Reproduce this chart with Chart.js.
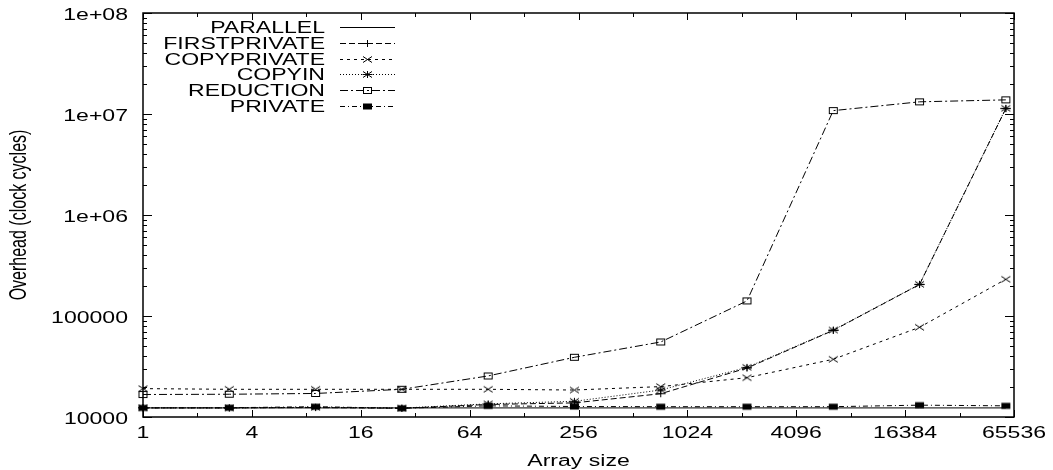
<!DOCTYPE html>
<html>
<head>
<meta charset="utf-8">
<script src="https://cdn.jsdelivr.net/npm/chart.js@4.4.0/dist/chart.umd.min.js"></script>
<style>
    html, body { margin: 0; padding: 0; background: #fff; }
    canvas { display: block; }
</style>
</head>
<body>
<canvas id="graficoOverhead" width="1053" height="470"></canvas>
<script>
// tamanhos de array (eixo x, potencias de 3)
const tamanhos = [1, 3, 9, 27, 81, 243, 729, 2187, 6561, 19683, 59049]

// overhead em ciclos de clock
const parallel     = [12300, 12300, 12300, 12300, 12300, 12300, 12300, 12300, 12300, 12300, 12300]
const firstprivate = [12300, 12300, 12400, 12200, 13300, 13800, 17000, 30500, 72000, 205000, 11300000]
const copyprivate  = [19100, 18800, 18800, 18800, 18800, 18500, 20000, 24500, 37300, 77300, 231000]
const copyin       = [12350, 12300, 12500, 12250, 13500, 14300, 18500, 31000, 72600, 206000, 11400000]
const reduction    = [16700, 16800, 17100, 18800, 25500, 39000, 55300, 141000, 10800000, 13200000, 13800000]
const privateArr   = [12300, 12350, 12650, 12200, 12900, 12700, 12650, 12650, 12650, 13100, 12900]

// ticks dos eixos
const ticksX = [1, 4, 16, 64, 256, 1024, 4096, 16384, 65536]
const ticksXLabels = ['1', '4', '16', '64', '256', '1024', '4096', '16384', '65536']
const ticksXMenores = [2, 8, 32, 128, 512, 2048, 8192, 32768]
const ticksY = [1e4, 1e5, 1e6, 1e7, 1e8]
const ticksYLabels = ['10000', '100000', '1e+06', '1e+07', '1e+08']

const FONTE = '16px "Liberation Sans", Arial, sans-serif'
const ESTICA = 1.44 // o texto original e "esticado" na horizontal

// marcadores no estilo gnuplot (um pouco mais largos do que altos)
function criarMarcador(tipo) {
    const c = document.createElement('canvas')
    c.width = 11
    c.height = 9
    const g = c.getContext('2d')
    g.strokeStyle = '#000'
    g.fillStyle = '#000'
    g.lineWidth = 1
    g.beginPath()
    if (tipo === 'mais' || tipo === 'estrela') {
        g.moveTo(0.5, 4.5); g.lineTo(10.5, 4.5)
        g.moveTo(5.5, 1); g.lineTo(5.5, 8)
    }
    if (tipo === 'xis' || tipo === 'estrela') {
        g.moveTo(1, 1.5); g.lineTo(10, 7.5)
        g.moveTo(1, 7.5); g.lineTo(10, 1.5)
    }
    g.stroke()
    if (tipo === 'quadrado') {
        g.strokeRect(1.5, 1.5, 8, 6)
    }
    if (tipo === 'quadradoCheio') {
        g.fillRect(1, 1.5, 9, 6)
    }
    return c
}

function pontos(valores) {
    return tamanhos.map((t, i) => ({ x: t, y: valores[i] }))
}

function textoEsticado(ctx, txt, x, y, alinhamento) {
    ctx.save()
    ctx.translate(x, y)
    ctx.scale(ESTICA, 1)
    ctx.textAlign = alinhamento
    ctx.textBaseline = 'alphabetic'
    ctx.fillText(txt, 0, 0)
    ctx.restore()
}

// moldura, ticks para dentro e rotulos
const eixosGnuplot = {
    id: 'eixosGnuplot',
    beforeDatasetsDraw(chart) {
        const { ctx, chartArea, scales } = chart
        const { left, right, top, bottom } = chartArea
        const sx = scales.x
        const sy = scales.y

        const ticksYMenores = []
        for (let d = 4; d < 8; d++) {
            for (let m = 2; m <= 9; m++) ticksYMenores.push(m * Math.pow(10, d))
        }

        ctx.save()
        ctx.strokeStyle = '#000'
        ctx.lineWidth = 1
        ctx.beginPath()
        ticksX.forEach(v => {
            const px = Math.round(sx.getPixelForValue(v)) + 0.5
            ctx.moveTo(px, bottom); ctx.lineTo(px, bottom - 7)
            ctx.moveTo(px, top); ctx.lineTo(px, top + 7)
        })
        ticksXMenores.forEach(v => {
            const px = Math.round(sx.getPixelForValue(v)) + 0.5
            ctx.moveTo(px, bottom); ctx.lineTo(px, bottom - 4)
            ctx.moveTo(px, top); ctx.lineTo(px, top + 4)
        })
        ticksY.forEach(v => {
            const py = Math.round(sy.getPixelForValue(v)) + 0.5
            ctx.moveTo(left, py); ctx.lineTo(left + 9, py)
            ctx.moveTo(right, py); ctx.lineTo(right - 9, py)
        })
        ticksYMenores.forEach(v => {
            const py = Math.round(sy.getPixelForValue(v)) + 0.5
            ctx.moveTo(left, py); ctx.lineTo(left + 4, py)
            ctx.moveTo(right, py); ctx.lineTo(right - 4, py)
        })
        ctx.stroke()

        ctx.lineWidth = 1.5
        ctx.strokeRect(left, top, right - left, bottom - top)

        ctx.fillStyle = '#000'
        ctx.font = FONTE
        ticksX.forEach((v, i) => {
            textoEsticado(ctx, ticksXLabels[i], sx.getPixelForValue(v), bottom + 21, 'center')
        })
        ticksY.forEach((v, i) => {
            textoEsticado(ctx, ticksYLabels[i], left - 15, sy.getPixelForValue(v) + 6.5, 'right')
        })

        textoEsticado(ctx, 'Array size', (left + right) / 2, 466, 'center')

        ctx.save()
        ctx.translate(20, (top + bottom) / 2)
        ctx.scale(ESTICA, 1)
        ctx.rotate(-Math.PI / 2)
        ctx.textAlign = 'center'
        ctx.textBaseline = 'middle'
        ctx.fillText('Overhead (clock cycles)', 0, 0)
        ctx.restore()

        ctx.restore()
    }
}

// legenda: texto a direita-alinhado, amostra da linha depois
const legendaGnuplot = {
    id: 'legendaGnuplot',
    afterDraw(chart) {
        const { ctx } = chart
        ctx.save()
        ctx.font = FONTE
        ctx.fillStyle = '#000'
        chart.data.datasets.forEach((ds, i) => {
            const y = Math.round(26.7 + i * 15.9) + 0.5
            textoEsticado(ctx, ds.label, 325, y + 5.5, 'right')
            ctx.strokeStyle = '#000'
            ctx.lineWidth = 1
            ctx.setLineDash(ds.borderDash || [])
            ctx.beginPath()
            ctx.moveTo(340, y)
            ctx.lineTo(395, y)
            ctx.stroke()
            ctx.setLineDash([])
            if (ds.pointRadius > 0) {
                const m = ds.pointStyle
                ctx.drawImage(m, 367.5 - m.width / 2, y - m.height / 2)
            }
        })
        ctx.restore()
    }
}

function serie(label, valores, dash, marcador) {
    return {
        label: label,
        data: pontos(valores),
        borderColor: '#000',
        backgroundColor: '#000',
        borderWidth: 1,
        borderDash: dash,
        tension: 0,
        fill: false,
        clip: false,
        pointStyle: marcador ? criarMarcador(marcador) : 'circle',
        pointRadius: marcador ? 5 : 0
    }
}

const grafico = document.getElementById('graficoOverhead')
new Chart(grafico, {
    type: 'line',
    data: {
        datasets: [
            serie('PARALLEL', parallel, [], null),
            serie('FIRSTPRIVATE', firstprivate, [6, 3], 'mais'),
            serie('COPYPRIVATE', copyprivate, [3, 4], 'xis'),
            serie('COPYIN', copyin, [1, 2], 'estrela'),
            serie('REDUCTION', reduction, [8, 3, 2, 3], 'quadrado'),
            serie('PRIVATE', privateArr, [5, 3, 1, 3], 'quadradoCheio')
        ]
    },
    options: {
        responsive: false,
        animation: false,
        devicePixelRatio: 1,
        layout: {
            padding: { top: 13, right: 39, bottom: 0, left: 0 }
        },
        plugins: {
            legend: { display: false },
            tooltip: { enabled: false }
        },
        scales: {
            x: {
                type: 'logarithmic',
                min: 1,
                max: 65536,
                grid: { display: false },
                border: { display: false },
                ticks: { display: false },
                afterFit(escala) { escala.height = 53 }
            },
            y: {
                type: 'logarithmic',
                min: 1e4,
                max: 1e8,
                grid: { display: false },
                border: { display: false },
                ticks: { display: false },
                afterFit(escala) { escala.width = 143 }
            }
        }
    },
    plugins: [eixosGnuplot, legendaGnuplot]
})
</script>
</body>
</html>
